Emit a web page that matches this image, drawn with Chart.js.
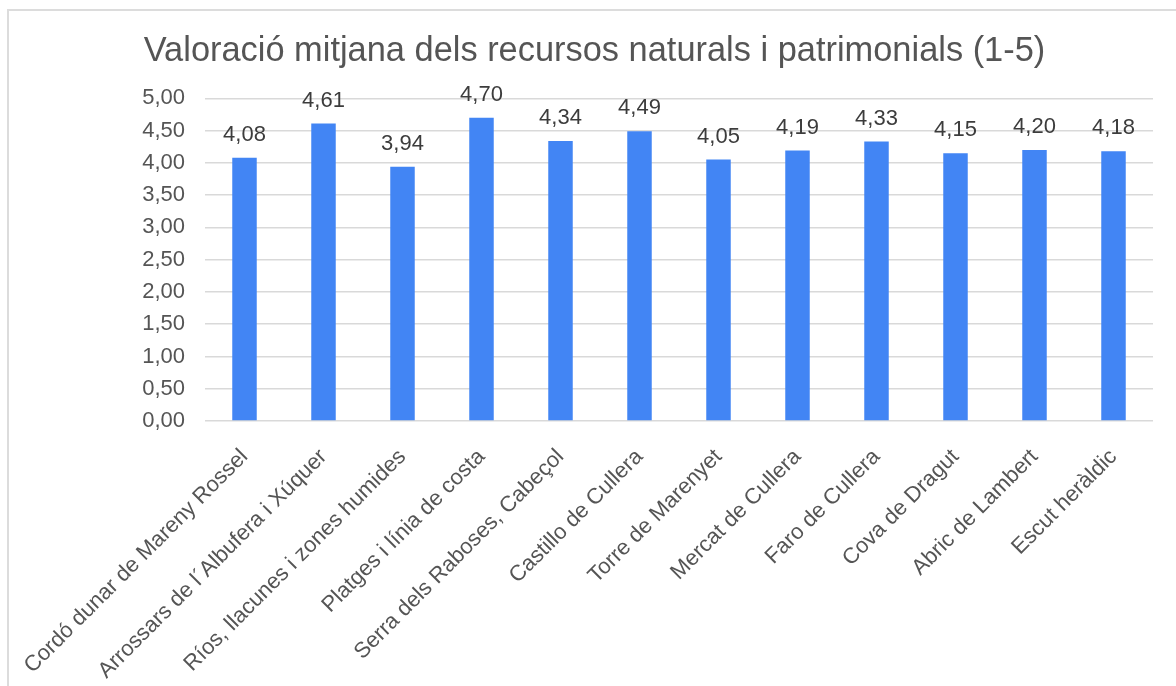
<!DOCTYPE html>
<html>
<head>
<meta charset="utf-8">
<script src="https://cdn.jsdelivr.net/npm/chart.js@4/dist/chart.umd.min.js"></script>
<style>
    body { margin: 0; background: #fff; }
    #frame { position: absolute; left: 7px; top: 9px; width: 1200px; height: 700px; border: 2px solid #dcdcdc; }
    #wrap { position: absolute; left: 0; top: 0; width: 1176px; height: 686px; }
</style>
</head>
<body>
<div id="frame"></div>
<div id="wrap"><canvas id="chart" width="1176" height="686"></canvas></div>
<script>
// Dades del gràfic
const categories = [
    'Cordó dunar de Mareny Rossel',
    'Arrossars de l´Albufera i Xúquer',
    'Ríos, llacunes i zones humides',
    'Platges i línia de costa',
    'Serra dels Raboses, Cabeçol',
    'Castillo de Cullera',
    'Torre de Marenyet',
    'Mercat de Cullera',
    'Faro de Cullera',
    'Cova de Dragut',
    'Abric de Lambert',
    'Escut heràldic'
];
const valors = [4.08, 4.61, 3.94, 4.70, 4.34, 4.49, 4.05, 4.19, 4.33, 4.15, 4.20, 4.18];
const yMin = 0;
const yMax = 5;
const yStep = 0.5;

const FONT = "'Liberation Sans', Arial, sans-serif";
const fmt = v => Number(v).toFixed(2).replace('.', ',');

// Etiquetes de valor damunt de cada barra
const valueLabels = {
    id: 'valueLabels',
    afterDatasetsDraw(chart) {
        const ctx = chart.ctx;
        const meta = chart.getDatasetMeta(0);
        ctx.save();
        ctx.font = '22px ' + FONT;
        ctx.fillStyle = '#3c3c3c';
        ctx.textAlign = 'center';
        ctx.textBaseline = 'middle';
        meta.data.forEach((bar, i) => {
            ctx.fillText(fmt(chart.data.datasets[0].data[i]), bar.x, bar.y - 23);
        });
        ctx.restore();
    }
};

new Chart(document.getElementById('chart'), {
    type: 'bar',
    data: {
        labels: categories,
        datasets: [{
            data: valors,
            backgroundColor: '#4285f4',
            borderWidth: 0,
            categoryPercentage: 1,
            barPercentage: 0.31
        }]
    },
    options: {
        responsive: false,
        animation: false,
        layout: { padding: { top: 0, right: 23, bottom: 0, left: 36 } },
        plugins: {
            legend: { display: false },
            tooltip: { enabled: false },
            title: {
                display: true,
                text: 'Valoració mitjana dels recursos naturals i patrimonials (1-5)',
                color: '#555555',
                font: { family: FONT, size: 34.4, weight: 'normal' },
                padding: { top: 31, bottom: 26 }
            }
        },
        scales: {
            x: {
                grid: { display: false },
                border: { display: false },
                ticks: {
                    color: '#555555',
                    font: { family: FONT, size: 22 },
                    minRotation: 45,
                    maxRotation: 45,
                    autoSkip: false,
                    padding: 15
                },
                afterFit(scale) { scale.height = 265; }
            },
            y: {
                min: yMin,
                max: yMax,
                grid: { color: '#d9d9d9', lineWidth: 1.5, drawTicks: false },
                border: { display: false },
                ticks: {
                    stepSize: yStep,
                    color: '#555555',
                    font: { family: FONT, size: 22 },
                    padding: 20,
                    callback: v => fmt(v)
                },
                afterFit(scale) { scale.width = 169; }
            }
        }
    },
    plugins: [valueLabels]
});
</script>
</body>
</html>
